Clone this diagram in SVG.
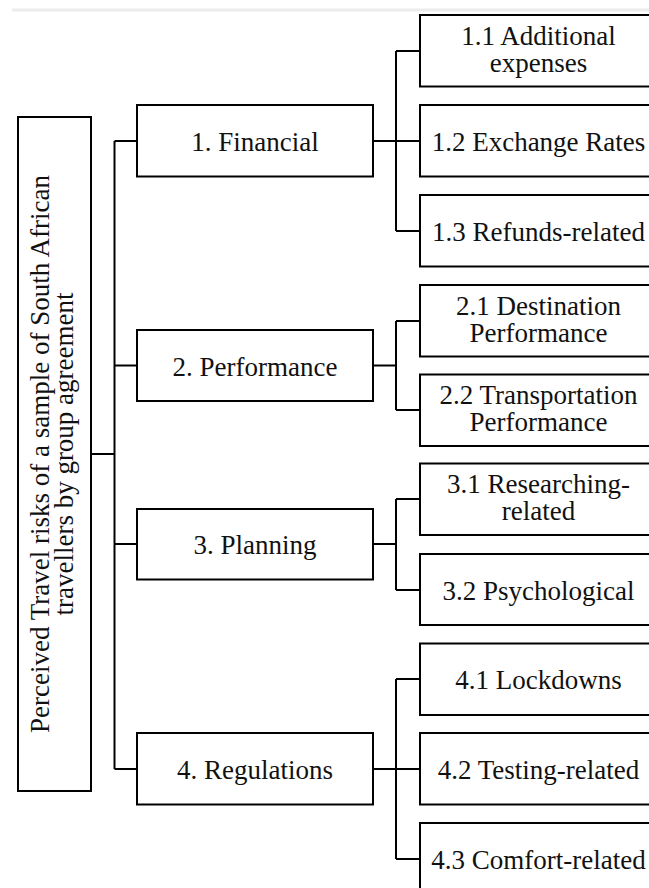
<svg xmlns="http://www.w3.org/2000/svg" width="649" height="888" viewBox="0 0 649 888">
<style>
.box{fill:#fff;stroke:#000;stroke-width:2}
.ln{fill:none;stroke:#000;stroke-width:2}
text{font-family:"Liberation Serif","Times New Roman",serif;font-size:27px;fill:#111;text-anchor:middle}
</style>
<rect width="649" height="888" fill="#fff"/>
<line x1="12" y1="10" x2="649" y2="10" stroke="#ececec" stroke-width="3"/>
<g id="connectors">
<path class="ln" d="M91,454 H114.5 M114.5,141 V769 M114.5,141 H137 M114.5,365.5 H137 M114.5,544 H137 M114.5,769 H137"/>
<path class="ln" d="M373,141 H396 M396,51 V231 M396,51 H420 M396,141 H420 M396,231 H420"/>
<path class="ln" d="M373,365.5 H396 M396,321 V410 M396,321 H420 M396,410 H420"/>
<path class="ln" d="M373,544 H396 M396,499 V590 M396,499 H420 M396,590 H420"/>
<path class="ln" d="M373,769 H396 M396,679 V859 M396,679 H420 M396,769 H420 M396,859 H420"/>
</g>
<g id="root">
<rect class="box" x="18" y="117" width="73" height="674"/>
<text transform="rotate(-90)" x="-454" y="49">Perceived Travel risks of a sample of South African<tspan x="-454" y="73">travellers by group agreement</tspan></text>
</g>
<g id="n1">
<rect class="box" x="137" y="105" width="236" height="71.5"/>
<text x="255" y="151">1. Financial</text>
</g>
<g id="n2">
<rect class="box" x="137" y="330" width="236" height="71"/>
<text x="255" y="375.5">2. Performance</text>
</g>
<g id="n3">
<rect class="box" x="137" y="509" width="236" height="70.5"/>
<text x="255" y="554">3. Planning</text>
</g>
<g id="n4">
<rect class="box" x="137" y="733" width="236" height="71.5"/>
<text x="255" y="779">4. Regulations</text>
</g>
<g id="n11">
<rect class="box" x="420" y="15" width="237" height="71.5"/>
<text x="538.5" y="45">1.1 Additional<tspan x="538.5" y="72">expenses</tspan></text>
</g>
<g id="n12">
<rect class="box" x="420" y="105" width="237" height="71.5"/>
<text x="538.5" y="151">1.2 Exchange Rates</text>
</g>
<g id="n13">
<rect class="box" x="420" y="195" width="237" height="71.5"/>
<text x="538.5" y="241">1.3 Refunds-related</text>
</g>
<g id="n21">
<rect class="box" x="420" y="285" width="237" height="71.5"/>
<text x="538.5" y="315">2.1 Destination<tspan x="538.5" y="342">Performance</tspan></text>
</g>
<g id="n22">
<rect class="box" x="420" y="374.5" width="237" height="71.5"/>
<text x="538.5" y="404">2.2 Transportation<tspan x="538.5" y="431">Performance</tspan></text>
</g>
<g id="n31">
<rect class="box" x="420" y="463.5" width="237" height="71.5"/>
<text x="538.5" y="493">3.1 Researching-<tspan x="538.5" y="520">related</tspan></text>
</g>
<g id="n32">
<rect class="box" x="420" y="554" width="237" height="71"/>
<text x="538.5" y="600">3.2 Psychological</text>
</g>
<g id="n41">
<rect class="box" x="420" y="643.5" width="237" height="71.5"/>
<text x="538.5" y="689">4.1 Lockdowns</text>
</g>
<g id="n42">
<rect class="box" x="420" y="733" width="237" height="71.5"/>
<text x="538.5" y="779">4.2 Testing-related</text>
</g>
<g id="n43">
<rect class="box" x="420" y="823" width="237" height="71.5"/>
<text x="538.5" y="869">4.3 Comfort-related</text>
</g>
</svg>
